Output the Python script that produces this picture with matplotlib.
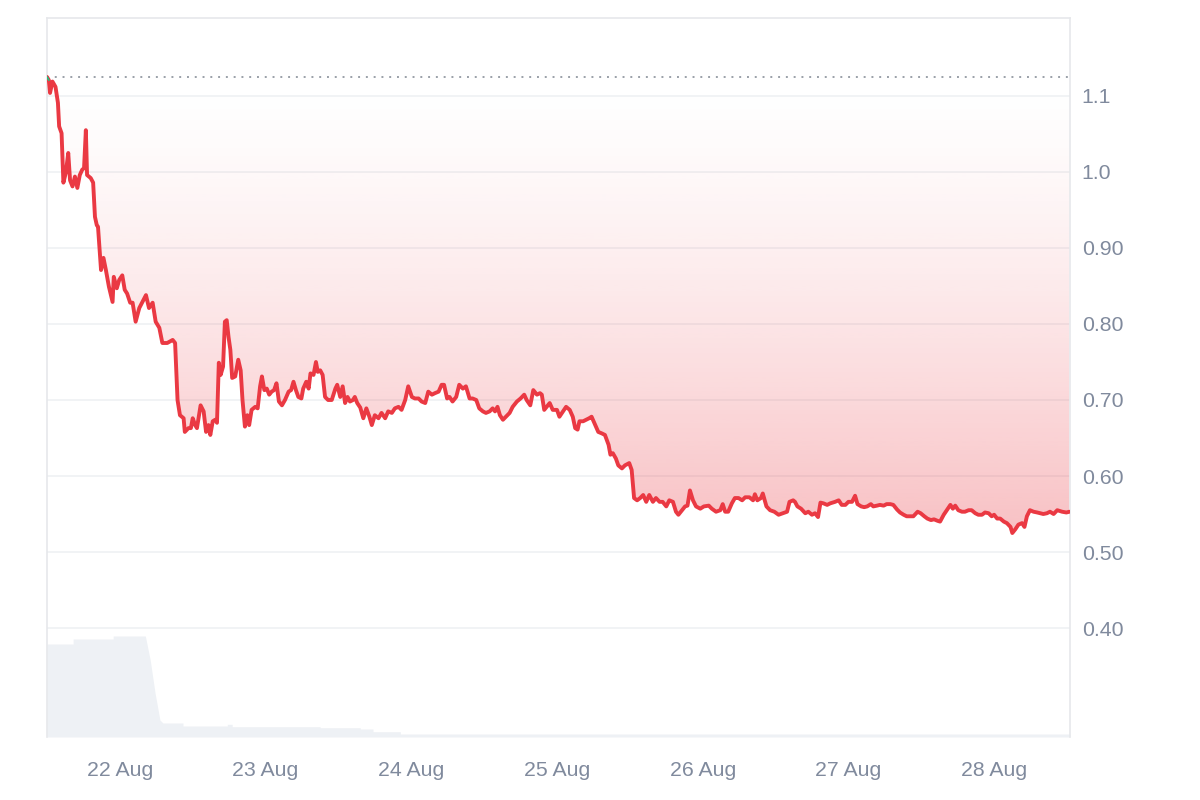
import matplotlib
matplotlib.use("Agg")
import matplotlib.pyplot as plt
import numpy as np

plt.rcParams['font.family'] = ['Liberation Sans', 'DejaVu Sans']

# ---- data (hours since 21 Aug 12:00) ----
hours = [
    0.0, 0.3, 0.5, 0.9, 1.4, 1.8, 2.0, 2.4, 2.7, 3.1,
    3.5, 3.8, 4.2, 4.6, 5.0, 5.4, 5.8, 6.1, 6.4, 6.6,
    7.2, 7.6, 7.9, 8.2, 8.4, 8.9, 9.3, 9.7, 10.2, 10.8,
    11.0, 11.5, 11.9, 12.4, 12.8, 13.2, 13.7, 14.1, 14.6, 15.2,
    16.3, 16.8, 17.4, 17.9, 18.5, 19.0, 19.8, 20.7, 21.1, 21.5,
    21.9, 22.5, 22.7, 23.3, 23.7, 24.0, 24.4, 24.7, 25.3, 25.8,
    26.2, 26.6, 26.9, 27.3, 27.7, 28.0, 28.3, 28.6, 29.0, 29.3,
    29.6, 29.9, 30.2, 30.5, 31.0, 31.5, 31.9, 32.2, 32.6, 33.0,
    33.3, 33.7, 34.3, 34.7, 35.1, 35.4, 35.8, 36.2, 36.6, 37.0,
    37.4, 37.8, 38.2, 38.7, 39.2, 39.8, 40.2, 40.6, 41.0, 41.4,
    41.9, 42.2, 42.7, 43.1, 43.4, 43.9, 44.3, 44.6, 45.0, 45.4,
    45.8, 46.3, 46.9, 47.5, 47.8, 48.3, 48.7, 49.1, 49.5, 49.9,
    50.4, 50.7, 51.1, 51.6, 52.1, 52.6, 53.1, 53.5, 54.0, 54.6,
    55.1, 55.7, 56.2, 56.8, 57.3, 57.9, 58.4, 59.0, 59.5, 60.1,
    60.6, 61.2, 61.7, 62.3, 62.8, 63.4, 63.9, 64.5, 65.0, 65.4,
    65.9, 66.3, 66.8, 67.4, 67.9, 68.5, 69.0, 69.6, 70.1, 70.7,
    71.2, 71.8, 72.3, 72.9, 73.4, 73.8, 74.2, 74.6, 75.1, 75.6,
    76.2, 76.7, 77.4, 78.0, 78.6, 79.0, 79.6, 80.1, 80.7, 81.2,
    81.5, 81.9, 82.3, 82.8, 83.3, 84.0, 84.4, 85.0, 85.5, 86.1,
    86.6, 87.0, 87.4, 87.7, 88.3, 88.8, 89.3, 89.7, 90.3, 90.8,
    91.4, 91.9, 92.5, 92.8, 93.2, 93.7, 94.1, 94.7, 95.2, 95.9,
    96.3, 96.7, 97.2, 97.7, 98.2, 98.7, 99.2, 99.8, 100.3, 100.9,
    101.4, 102.0, 102.5, 103.1, 103.6, 104.0, 104.6, 105.1, 105.5, 105.9,
    106.4, 106.9, 107.6, 108.2, 109.0, 109.5, 110.2, 110.9, 111.3, 111.7,
    112.2, 112.8, 113.3, 113.9, 114.5, 115.0, 115.7, 116.3, 116.6, 117.0,
    117.6, 117.9, 118.5, 119.1, 119.8, 120.5, 121.2, 121.9, 122.3, 122.9,
    123.2, 123.6, 124.2, 124.9, 125.4, 126.0, 126.5, 127.0, 127.4, 127.9,
    128.5, 129.0, 129.8, 130.4, 130.9, 131.5, 132.0, 132.6, 133.1, 133.5,
    134.1, 134.6, 135.1, 135.7, 136.1, 136.7, 137.2, 137.8, 138.3, 138.9,
    139.4, 140.0, 140.5, 141.1, 141.6, 142.2, 142.7, 143.4, 143.9, 144.5,
    145.0, 145.6, 146.1, 146.7, 147.1, 147.7, 148.2, 148.8, 149.2, 149.6,
    150.1, 150.7, 151.2, 151.8, 152.3, 152.9, 153.4, 154.0, 154.5, 155.1,
    155.6, 156.0, 156.5, 157.0, 157.6, 158.1, 158.7, 159.0, 159.5, 160.0,
    160.6, 161.0, 161.4, 161.9, 162.5, 163.1, 163.6, 164.1, 164.7, 165.2,
    165.8, 166.4, 167.2, 167.9, 168.4,
]
price = [
    1.125, 1.121, 1.104, 1.119, 1.112, 1.091, 1.060, 1.051, 0.986, 0.999,
    1.025, 0.989, 0.981, 0.994, 0.979, 0.996, 1.003, 1.005, 1.055, 0.996,
    0.992, 0.986, 0.941, 0.930, 0.928, 0.871, 0.887, 0.871, 0.849, 0.829,
    0.862, 0.847, 0.858, 0.864, 0.845, 0.840, 0.828, 0.828, 0.803, 0.821,
    0.838, 0.821, 0.828, 0.803, 0.795, 0.775, 0.775, 0.779, 0.775, 0.700,
    0.680, 0.676, 0.658, 0.663, 0.663, 0.676, 0.667, 0.663, 0.693, 0.685,
    0.658, 0.667, 0.654, 0.672, 0.674, 0.670, 0.749, 0.733, 0.744, 0.803,
    0.805, 0.783, 0.766, 0.729, 0.731, 0.753, 0.739, 0.700, 0.665, 0.680,
    0.667, 0.687, 0.691, 0.689, 0.718, 0.731, 0.713, 0.715, 0.707, 0.711,
    0.713, 0.722, 0.698, 0.693, 0.700, 0.711, 0.713, 0.724, 0.713, 0.704,
    0.702, 0.715, 0.724, 0.715, 0.735, 0.733, 0.750, 0.737, 0.739, 0.733,
    0.704, 0.700, 0.700, 0.715, 0.720, 0.704, 0.718, 0.696, 0.704, 0.698,
    0.700, 0.704, 0.696, 0.690, 0.676, 0.689, 0.678, 0.667, 0.680, 0.676,
    0.683, 0.676, 0.685, 0.683, 0.689, 0.691, 0.687, 0.700, 0.718, 0.704,
    0.702, 0.702, 0.698, 0.696, 0.711, 0.707, 0.709, 0.711, 0.720, 0.720,
    0.702, 0.704, 0.698, 0.704, 0.720, 0.715, 0.718, 0.702, 0.702, 0.700,
    0.689, 0.685, 0.683, 0.685, 0.689, 0.685, 0.691, 0.680, 0.674, 0.678,
    0.683, 0.691, 0.698, 0.702, 0.707, 0.700, 0.693, 0.713, 0.707, 0.709,
    0.707, 0.687, 0.691, 0.696, 0.687, 0.687, 0.678, 0.685, 0.691, 0.687,
    0.678, 0.663, 0.661, 0.672, 0.672, 0.674, 0.676, 0.678, 0.667, 0.658,
    0.656, 0.654, 0.641, 0.628, 0.630, 0.623, 0.614, 0.610, 0.614, 0.617,
    0.608, 0.571, 0.568, 0.571, 0.575, 0.566, 0.575, 0.566, 0.571, 0.566,
    0.566, 0.560, 0.568, 0.566, 0.553, 0.549, 0.555, 0.560, 0.561, 0.581,
    0.568, 0.560, 0.557, 0.560, 0.561, 0.557, 0.553, 0.555, 0.563, 0.553,
    0.553, 0.564, 0.571, 0.571, 0.568, 0.572, 0.572, 0.568, 0.576, 0.568,
    0.571, 0.577, 0.560, 0.555, 0.553, 0.549, 0.551, 0.553, 0.566, 0.568,
    0.566, 0.560, 0.557, 0.551, 0.553, 0.549, 0.551, 0.546, 0.565, 0.564,
    0.562, 0.564, 0.566, 0.568, 0.562, 0.562, 0.566, 0.566, 0.574, 0.563,
    0.560, 0.559, 0.560, 0.563, 0.560, 0.561, 0.562, 0.561, 0.563, 0.563,
    0.562, 0.556, 0.552, 0.549, 0.547, 0.547, 0.547, 0.553, 0.551, 0.547,
    0.544, 0.542, 0.543, 0.541, 0.540, 0.549, 0.555, 0.562, 0.557, 0.561,
    0.555, 0.553, 0.553, 0.555, 0.555, 0.551, 0.549, 0.549, 0.552, 0.551,
    0.547, 0.549, 0.544, 0.544, 0.540, 0.538, 0.533, 0.525, 0.530, 0.536,
    0.538, 0.533, 0.547, 0.555, 0.553, 0.552, 0.551, 0.550, 0.551, 0.553,
    0.550, 0.555, 0.553, 0.552, 0.553,
]

vol_hours = [0, 4.3, 4.3, 10.9, 10.9, 16.2, 17.0, 17.8, 18.6, 19.1, 19.1, 22.4, 22.4,
             29.7, 29.7, 30.5, 30.5, 45.0, 45.0, 51.6, 51.6, 53.7, 53.7, 58.2, 58.2, 168.5]
volume = [93, 93, 98, 98, 101, 101, 77, 44, 17, 14, 14, 14, 11,
          11, 12.7, 12.7, 10.3, 10.3, 9.3, 9.3, 8, 8, 5.3, 5.3, 3, 3]

baseline = 1.125
x_ticks = [12, 36, 60, 84, 108, 132, 156]
x_labels = ['22 Aug', '23 Aug', '24 Aug', '25 Aug', '26 Aug', '27 Aug', '28 Aug']
y_ticks = [0.40, 0.50, 0.60, 0.70, 0.80, 0.90, 1.0, 1.1]
y_labels = ['0.40', '0.50', '0.60', '0.70', '0.80', '0.90', '1.0', '1.1']

# ---- styling ----
RED = '#ea3943'
TXT = '#808a9d'
GRID = '#eff1f3'
SPINE = '#e6e8eb'
XMAX = 168.5
YMIN, YMAX = 0.2566, 1.2026

fig = plt.figure(figsize=(12, 8), dpi=100)
ax = fig.add_axes([47/1200, 1-737/800, (1070-47)/1200, (737-18)/800])
axv = ax.twinx()
ax.set_zorder(axv.get_zorder() + 1)
ax.patch.set_visible(False)

# volume
axv.fill_between(vol_hours, 0, volume, color='#eef1f5', lw=0)
axv.set_ylim(0, 719)
axv.set_yticks([])
for s in axv.spines.values():
    s.set_visible(False)

hx = np.array(hours)
py = np.array(price)

# gradient fill between line and baseline
poly = ax.fill_between(hx, py, baseline, where=py <= baseline, color='none', lw=0)
grad_y = np.linspace(YMIN, baseline, 400)
t = np.clip((baseline - grad_y) / (baseline - 0.52), 0, 1)
alpha = 0.32 * t ** 1.4
rgb = matplotlib.colors.to_rgb(RED)
img = np.zeros((400, 1, 4))
img[:, 0, 0] = rgb[0]
img[:, 0, 1] = rgb[1]
img[:, 0, 2] = rgb[2]
img[:, 0, 3] = alpha
im = ax.imshow(img, extent=[0, XMAX, YMIN, baseline], origin='lower',
               aspect='auto', interpolation='bilinear', zorder=1)
paths = poly.get_paths()
if paths:
    im.set_clip_path(paths[0], transform=ax.transData)

# grid
for yt in y_ticks:
    ax.axhline(yt, color=GRID, lw=1.2, zorder=0.5)

# baseline dotted
ax.axhline(baseline, color='#9aa0a8', lw=1.4, linestyle=(0, (1, 3)), zorder=2)

# price line
ax.plot(hx, py, color=RED, lw=2.8, zorder=3, solid_joinstyle='round',
        solid_capstyle='round')
ax.plot(hx[:2], py[:2], color='#16c784', lw=1.2, zorder=4)

ax.set_xlim(0, XMAX)
ax.set_ylim(YMIN, YMAX)
ax.yaxis.tick_right()
ax.set_yticks(y_ticks)
ax.set_yticklabels(y_labels)
ax.set_xticks(x_ticks)
ax.set_xticklabels(x_labels)
ax.tick_params(axis='y', length=0, pad=8.5, labelsize=15.3, labelcolor=TXT)
ax.tick_params(axis='x', length=0, pad=17, labelsize=15.3, labelcolor=TXT)
for s in ax.spines.values():
    s.set_color(SPINE)
    s.set_linewidth(1.2)
ax.spines['bottom'].set_visible(False)

fig.savefig('out.png', dpi=100, facecolor='white')
